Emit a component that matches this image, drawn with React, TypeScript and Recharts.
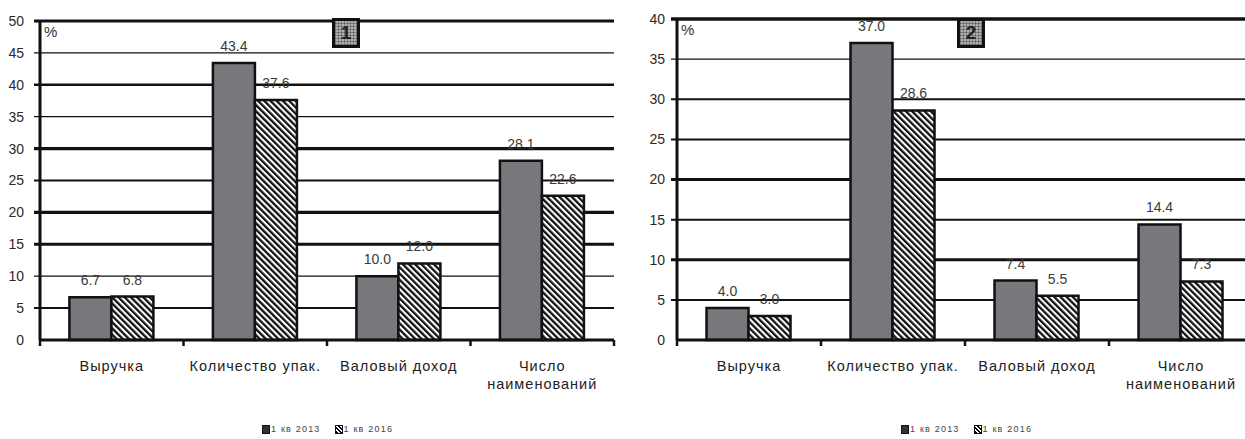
import React from 'react';
import { BarChart, Bar, XAxis, YAxis, CartesianGrid, LabelList } from 'recharts';

const categories = ['Выручка', 'Количество упак.', 'Валовый доход', 'Число\nнаименований'];
const seriesNames = ['1 кв 2013', '1 кв 2016'];

// panel 1
const panel1Q2013 = [6.7, 43.4, 10.0, 28.1];
const panel1Q2016 = [6.8, 37.6, 12.0, 22.6];
const panel1Ticks = [0, 5, 10, 15, 20, 25, 30, 35, 40, 45, 50];

// panel 2
const panel2Q2013 = [4.0, 37.0, 7.4, 14.4];
const panel2Q2016 = [3.0, 28.6, 5.5, 7.3];
const panel2Ticks = [0, 5, 10, 15, 20, 25, 30, 35, 40];

// gridline weights, keyed by tick value
const panel1GridWidths: Record<number, number> = { 5: 2, 10: 1.3, 15: 3, 20: 3.2, 25: 2.2, 30: 3.2, 35: 1.3, 40: 2.6, 45: 1.3, 50: 3 };
const panel2GridWidths: Record<number, number> = { 5: 2, 10: 3, 15: 2, 20: 3.2, 25: 2, 30: 2.2, 35: 1.3, 40: 3.6 };

const FONT = "'Liberation Sans', Arial, sans-serif";
const BAR_GRAY = '#77787b';
const INK = '#111';

const fmt = (v: any) => Number(v).toFixed(1);

const CategoryTick = (props: any) => {
  const { x, y, payload, index, visibleTicksCount } = props;
  const half = payload?.offset ?? 72;
  const lines = String(payload.value).split('\n');
  return (
    <g>
      <line x1={x - half} y1={y} x2={x - half} y2={y + 6} stroke={INK} strokeWidth={2.5} />
      {index === visibleTicksCount - 1 && (
        <line x1={x + half} y1={y} x2={x + half} y2={y + 6} stroke={INK} strokeWidth={2.5} />
      )}
      <text x={x} y={y + 31} textAnchor="middle" fill="#222" fontSize={14.5} fontFamily={FONT} letterSpacing={1}>
        {lines.map((l, i) => (
          <tspan key={i} x={x} dy={i === 0 ? 0 : 18}>
            {l}
          </tspan>
        ))}
      </text>
    </g>
  );
};

const gridLine = (max: number, widths: Record<number, number>) => (p: any) => {
  const value = Math.round(((p.y + p.height - p.y1) / p.height) * max);
  if (value === 0) return <g key={p.key} />;
  return (
    <line
      key={p.key}
      x1={p.x1 - 6}
      x2={p.x2}
      y1={p.y1}
      y2={p.y2}
      stroke={INK}
      strokeWidth={widths[value] ?? 1.5}
    />
  );
};

interface PanelProps {
  id: string;
  q2013: number[];
  q2016: number[];
  ticks: number[];
  gridWidths: Record<number, number>;
  left: number;
  width: number;
  marginTop: number;
  marginRight: number;
  yAxisWidth: number;
  tickMargin: number;
  badge: string;
  badgeLeft: number;
  badgeTop: number;
  legendLeft: number;
}

function Panel(p: PanelProps) {
  const max = p.ticks[p.ticks.length - 1];
  const data = categories.map((name, i) => ({
    name,
    [seriesNames[0]]: p.q2013[i],
    [seriesNames[1]]: p.q2016[i],
  }));
  const hatchId = `hatch-${p.id}`;

  return (
    <>
      <div style={{ position: 'absolute', left: p.left, top: 0 }}>
        <BarChart
          width={p.width}
          height={439}
          data={data}
          margin={{ top: p.marginTop, right: p.marginRight, left: 0, bottom: 0 }}
          barGap={0}
          barCategoryGap="20.5%"
        >
          <defs>
            <pattern id={hatchId} width={4.4} height={4.4} patternUnits="userSpaceOnUse" patternTransform="rotate(-45)">
              <rect width={4.4} height={4.4} fill="#fff" />
              <rect width={2.3} height={4.4} fill="#111" />
            </pattern>
          </defs>
          <CartesianGrid vertical={false} horizontal={gridLine(max, p.gridWidths)} />
          <XAxis
            dataKey="name"
            height={99}
            tickSize={0}
            tickMargin={0}
            tickLine={false}
            axisLine={{ stroke: INK, strokeWidth: 3 }}
            tick={<CategoryTick />}
            interval={0}
          />
          <YAxis
            width={p.yAxisWidth}
            domain={[0, max]}
            ticks={p.ticks}
            interval={0}
            tickSize={6}
            tickMargin={p.tickMargin}
            tickLine={false}
            axisLine={{ stroke: INK, strokeWidth: 3 }}
            tick={{ fill: '#2a2a2a', fontSize: 14, fontFamily: FONT }}
          />
          <Bar dataKey={seriesNames[0]} fill={BAR_GRAY} stroke={INK} strokeWidth={2.5} isAnimationActive={false}>
            <LabelList position="top" offset={12} formatter={fmt} fill="#3a3a3a" fontSize={14} fontFamily={FONT} />
          </Bar>
          <Bar dataKey={seriesNames[1]} fill={`url(#${hatchId})`} stroke={INK} strokeWidth={2.5} isAnimationActive={false}>
            <LabelList position="top" offset={12} formatter={fmt} fill="#3a3a3a" fontSize={14} fontFamily={FONT} />
          </Bar>
        </BarChart>
      </div>

      <span
        style={{
          position: 'absolute',
          left: p.left + p.yAxisWidth + 4,
          top: p.marginTop + 2,
          fontFamily: FONT,
          fontSize: 15,
          color: '#333',
        }}
      >
        %
      </span>

      <div
        style={{
          position: 'absolute',
          left: p.badgeLeft,
          top: p.badgeTop,
          width: 22,
          height: 24,
          border: `3px solid ${INK}`,
          background:
            'repeating-linear-gradient(0deg, #999 0 1px, #d4d4d4 1px 3px), repeating-linear-gradient(90deg, #999 0 1px, #d4d4d4 1px 3px)',
          backgroundBlendMode: 'multiply',
          color: '#222',
          fontFamily: FONT,
          fontWeight: 'bold',
          fontSize: 19,
          lineHeight: '24px',
          textAlign: 'center',
        }}
      >
        {p.badge}
      </div>

      <div
        style={{
          position: 'absolute',
          left: p.legendLeft,
          top: 424,
          display: 'flex',
          alignItems: 'center',
          gap: 14,
          fontFamily: FONT,
          fontSize: 9,
          letterSpacing: 1.2,
          color: '#444',
        }}
      >
        {seriesNames.map((s, i) => (
          <span key={s} style={{ display: 'flex', alignItems: 'center' }}>
            <span
              style={{
                display: 'inline-block',
                width: 6,
                height: 7,
                border: `1px solid ${INK}`,
                marginRight: 1,
                background:
                  i === 0 ? '#333' : 'repeating-linear-gradient(45deg, #000 0 1.5px, #fff 1.5px 3px)',
              }}
            />
            {s}
          </span>
        ))}
      </div>
    </>
  );
}

export default function App() {
  return (
    <div style={{ position: 'relative', width: 1245, height: 439, overflow: 'hidden', background: '#fff' }}>
      <style>{'body{margin:0;overflow:hidden}'}</style>
      <Panel
        id="p1"
        q2013={panel1Q2013}
        q2016={panel1Q2016}
        ticks={panel1Ticks}
        gridWidths={panel1GridWidths}
        left={0}
        width={620}
        marginTop={21}
        marginRight={6}
        yAxisWidth={40}
        tickMargin={10}
        badge="1"
        badgeLeft={332}
        badgeTop={18}
        legendLeft={262}
      />
      <Panel
        id="p2"
        q2013={panel2Q2013}
        q2016={panel2Q2016}
        ticks={panel2Ticks}
        gridWidths={panel2GridWidths}
        left={625}
        width={640}
        marginTop={19}
        marginRight={12}
        yAxisWidth={52}
        tickMargin={6}
        badge="2"
        badgeLeft={957}
        badgeTop={18}
        legendLeft={901}
      />
    </div>
  );
}
